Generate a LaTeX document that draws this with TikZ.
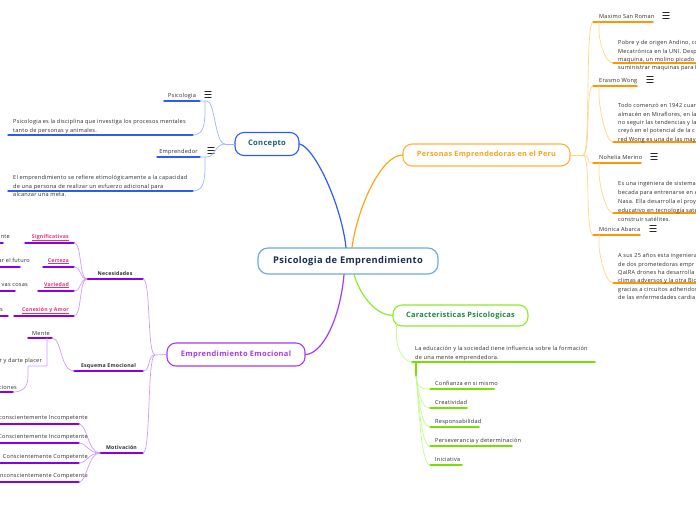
\documentclass[tikz,border=0pt]{standalone}
\usepackage{fontspec}
\setmainfont[LetterSpace=4]{Open Sans}
\definecolor{ink}{HTML}{2B2B2B}
\definecolor{rootline}{HTML}{6AAEDD}
\definecolor{rootink}{HTML}{1B2C55}
\definecolor{cblue}{HTML}{2E5CF2}
\definecolor{cblueink}{HTML}{1D5C86}
\definecolor{cbluelt}{HTML}{9DB5FF}
\definecolor{porange}{HTML}{FFA31A}
\definecolor{porangelt}{HTML}{FFD58A}
\definecolor{pul}{HTML}{FF9500}
\definecolor{glime}{HTML}{8DEB2A}
\definecolor{glimelt}{HTML}{C4FA8C}
\definecolor{gink}{HTML}{178A3C}
\definecolor{gul}{HTML}{77E000}
\definecolor{epurple}{HTML}{A83AF5}
\definecolor{epurplelt}{HTML}{D09BFF}
\definecolor{eul}{HTML}{8A00E0}
\definecolor{epink}{HTML}{E8306C}

\begin{document}
\begin{tikzpicture}[x=1pt, y=-1pt, line cap=round, line join=round, every node/.style={inner sep=0pt, text=ink, font=\fontsize{5.6}{8.3}\selectfont}]
  \tikzset{
    topic/.style={draw, fill=white, line width=1.1pt, rounded corners=9pt, minimum height=22pt, font=\fontsize{7.6}{8}\selectfont\bfseries},
    rootbox/.style={topic, draw=rootline, text=rootink, line width=1.2pt, rounded corners=10pt, minimum width=180pt, minimum height=26pt, font=\fontsize{9.3}{10}\selectfont\bfseries},
    mainline/.style={line width=1.2pt},
    subline/.style={line width=.7pt},
    uline/.style={line width=1.5pt},
    desc/.style={anchor=north west, align=left},
    menu/.pic={\draw[line width=.75pt, ink] (-3.2,-2.7) -- (3.2,-2.7) (-3.2,0) -- (3.2,0) (-3.2,2.7) -- (3.2,2.7);}
  }
  \useasboundingbox (0,0) rectangle (696,520);
  \clip (0,0) rectangle (696,520);

  % centre and main topics
  \node[rootbox] (root) at (348,261) {Psicologia de Emprendimiento};
  \node[topic, draw=cblue, text=cblueink, minimum width=64pt, minimum height=23pt] (concepto) at (267,144) {Concepto};
  \node[topic, draw=porange!85, text=porange, minimum width=167pt, font=\fontsize{7.3}{8}\selectfont\bfseries] (personas) at (486.5,155) {Personas Emprendedoras en el Peru};
  \node[topic, draw=glime, text=gink, minimum width=135pt, minimum height=21pt, font=\fontsize{7.4}{8}\selectfont\bfseries] (caract) at (460.5,315.5) {Caracteristicas Psicologicas};
  \node[topic, draw=epurple, text=epurple, minimum width=138pt, minimum height=23pt, font=\fontsize{7.5}{8}\selectfont\bfseries] (emocional) at (236,354.5) {Emprendimiento Emocional};

  \draw[mainline, cblue] ([xshift=-2pt]root.north) .. controls (341,203) and (314,147) .. (concepto.east);
  \draw[mainline, porange] ([xshift=4pt]root.north) .. controls (358,205) and (382,155) .. (personas.west);
  \draw[mainline, glime] ([xshift=6pt]root.south) .. controls (362,300) and (378,315) .. (caract.west);
  \draw[mainline, epurple] ([xshift=-4pt]root.south) .. controls (340,320) and (322,354) .. (emocional.east);

  % Concepto
  \coordinate (cj) at (225,144);
  \draw[subline, cbluelt] (concepto.west) -- (cj);
  \foreach \n/\t/\y/\a/\i/\dy in {psi/Psicologia/101/164/208/135, emp/Emprendedor/157/157/211/191} {
    \coordinate (\n0) at (\a,\y);
    \coordinate (\n1) at (200,\y);
    \draw[uline, cblue] (\n0) -- (\n1);
    \node[anchor=base] (\n) at ({(\a+200)/2},\y-4) {\t};
    \pic at (\i,\y-6.5) {menu};
    \draw[subline, cbluelt] (cj) .. controls +(-10,0) and +(8,0) .. (207,\y) -- (\n1);
    \coordinate (\n2) at (193,\dy);
    \draw[uline, cblue] (8,\dy) -- (\n2);
    \draw[subline, cbluelt] (205,\y) -- (205,\y+11) .. controls (205,\dy-6) and (201,\dy) .. (\n2);
  }
  \node[desc] (psid) at (13,119.5) {Psicologia es la disciplina que investiga los procesos mentales\\tanto de personas y animales.};
  \node[desc] (empd) at (13,175.5) {El emprendimiento se refiere etimológicamente a la capacidad\\de una persona de realizar un esfuerzo adicional para\\alcanzar una meta.};

  % Personas Emprendedoras
  \coordinate (pj) at (583,155);
  \draw[subline, porangelt] (personas.east) -- (pj);
  \foreach \n/\t/\y/\e/\dy in {max/Maximo San Roman/22/653/63, era/Erasmo Wong/86/637/142, noh/Nohelia Merino/163/641/213, mon/Mónica Abarca/235/640/283} {
    \coordinate (\n0) at (593,\y);
    \draw[uline, pul] (\n0) -- (\e,\y);
    \node[anchor=base west] (\n) at (599,\y-4) {\t};
    \pic at (\e+13,\y-6.5) {menu};
    \draw[subline, porangelt] (pj) .. controls +(8,0) and +(-8,0) .. (\n0);
    \coordinate (\n1) at (613,\dy);
    \draw[uline, pul] (\n1) -- (700,\dy);
    \draw[subline, porangelt] (599,\y) -- (599,\y+10) .. controls (599,\y+18) and (605,\dy) .. (\n1);
  }
  \node[desc] (maxd) at (618,40.5) {Pobre y de origen Andino, co\\Mecatrónica en la UNI. Desp\\maquina, un molino picado\\suministrar maquinas para l};
  \node[desc] (erad) at (618,103.5) {Todo comenzó en 1942 cuan\\almacén en Miraflores, en la\\no seguir las tendencias y la\\creyó en el potencial de la c\\red Wong es una de las may};
  \node[desc, font=\fontsize{5.6}{8.8}\selectfont] (nohd) at (618,181.5) {Es una ingeniera de sistema\\becada para entrenarse en e\\Nasa. Ella desarrolla el proy\\educativo en tecnología sate\\construir satélites.};
  \node[desc] (mond) at (618,253.5) {A sus 25 años esta ingeniera\\de dos prometedoras empr\\QaIRA drones ha desarrolla\\climas adversos y la otra Bio\\gracias a circuitos adheridos\\de las enfermedades cardia};

  % Caracteristicas Psicologicas
  \coordinate (cd0) at (412,362);
  \coordinate (cd1) at (595,362);
  \draw[subline, glimelt] ([xshift=4pt, yshift=2pt]caract.south west) -- ++(0,12) .. controls +(0,12) and +(-8,0) .. (cd0);
  \draw[uline, gul] (cd0) -- (cd1);
  \node[desc] (cdt) at (415,346.5) {La educación y la sociedad tiene influencia sobre la formación\\de una mente emprendedora.};
  \coordinate (gj) at (416,376);
  \draw[uline, gul] (416,362) -- (gj);
  \foreach \n/\t/\y/\e in {con/Confianza en si mismo/389/494, cre/Creatividad/408/467, res/Responsabilidad/427/479, per/Perseverancia y determinación/446/512, ini/Iniciativa/465/462} {
    \coordinate (\n0) at (430,\y);
    \draw[uline, gul] (\n0) -- (\e,\y);
    \node[anchor=base west] (\n) at (435,\y-4) {\t};
    \draw[subline, glimelt] (gj) .. controls +(2,12) and +(-10,0) .. (\n0);
  }

  % Emprendimiento Emocional
  \coordinate (ej) at (155,355);
  \draw[subline, epurplelt] (emocional.west) -- (ej);
  \foreach \n/\t/\a/\y in {nec/Necesidades/87/279, esq/Esquema Emocional/74/371, mot/Motivación/100/453} {
    \coordinate (\n0) at (\a,\y);
    \coordinate (\n1) at (143,\y);
    \draw[uline, eul] (\n0) -- (\n1);
    \node[anchor=base, font=\fontsize{5.2}{6}\selectfont\bfseries] (\n) at ({(\a+143)/2},\y-4) {\t};
    \draw[subline, epurplelt] (ej) .. controls +(-8,0) and +(8,0) .. (\n1);
  }

  % Necesidades
  \foreach \n/\t/\a/\y/\f/\e/\g in {sig/Significativas/25/243/nte/3/10, cer/Certeza/43/267/ar el futuro/20/30, var/Variedad/38/291/vas cosas/15/28, amo/Conexión y Amor/14/316/s/8/3} {
    \coordinate (\n0) at (\a,\y);
    \coordinate (\n1) at (74,\y);
    \draw[uline, eul] (\n0) -- (\n1);
    \node[anchor=base east, text=epink, font=\fontsize{5.2}{6}\selectfont\bfseries] (\n) at (69,\y-5) {\underline{\t}};
    \draw[subline, epurplelt] (nec0) .. controls +(-8,0) and +(8,0) .. (\n1);
    \draw[uline, eul] (-2,\y) -- (\e,\y);
    \node[anchor=base east] (\n2) at (\g,\y-5) {\f};
  }

  % Esquema Emocional
  \coordinate (men0) at (28,338);
  \coordinate (men1) at (52,338);
  \draw[uline, eul] (men0) -- (men1);
  \node[anchor=base west] (men) at (32,335) {Mente};
  \draw[subline, epurplelt] (esq0) .. controls +(-14,0) and +(10,0) .. (men1);
  \node[anchor=base east] (pla) at (42,362) {r y darte placer};
  \coordinate (emo1) at (13,392);
  \draw[uline, eul] (-2,392) -- (emo1);
  \node[anchor=base east] (emo) at (17,389) {ciones};
  \draw[subline, epurplelt] (47,338) -- (47,366) -- (28,366) -- (28,376) .. controls (28,388) and (22,392) .. (emo1);

  % Motivacion
  \foreach \n/\t/\y in {mii/nconscientemente Incompetente/424, mci/Conscientemente Incompetente/443, mcc/Conscientemente Competente/463, mic/Inconscientemente Competente/482} {
    \coordinate (\n1) at (79,\y);
    \draw[uline, eul] (-2,\y) -- (\n1);
    \node[anchor=base east] (\n) at (88,\y-5) {\t};
    \draw[subline, epurplelt] (mot0) .. controls +(-12,0) and +(8,0) .. (\n1);
  }
\end{tikzpicture}
\end{document}
